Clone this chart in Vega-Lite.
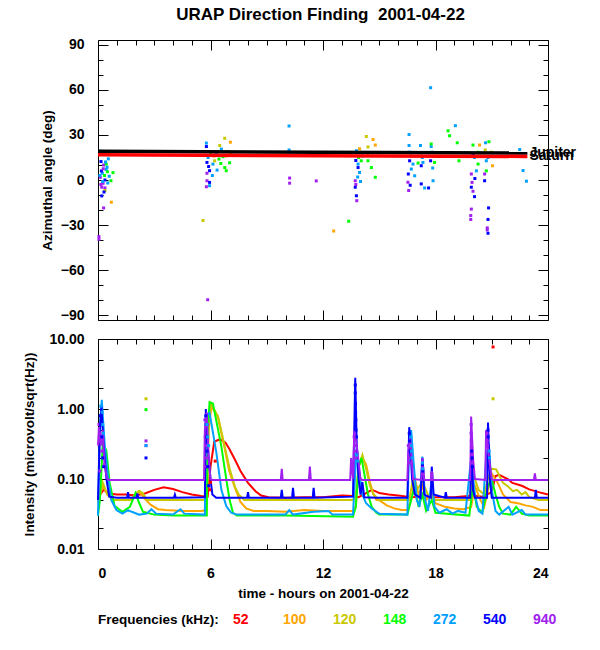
{
  "$schema": "https://vega.github.io/schema/vega-lite/v6.json",
  "title": {"text": "URAP Direction Finding\u00a0 2001-04-22", "fontSize": 17, "fontWeight": "bold", "font": "Liberation Sans", "color": "black", "anchor": "middle", "offset": 13, "dx": 21},
  "padding": {"left": 22, "top": 6, "right": 10, "bottom": 5},
  "background": "white",
  "config": {
    "font": "Liberation Sans",
    "view": {"stroke": "black", "strokeWidth": 1},
    "axis": {"domain": false, "grid": false, "ticks": true, "labelFont": "Liberation Sans", "labelFontSize": 14, "labelFontWeight": "bold", "labelColor": "black", "tickColor": "black", "tickWidth": 1, "titleFont": "Liberation Sans", "titleFontSize": 13.5, "titleFontWeight": "bold", "titleColor": "black", "labelOverlap": false}
  },
  "datasets": {
    "dirf": [
      {"t":0.12,"a":19.2,"f":272},{"t":0.59,"a":18.5,"f":148},{"t":0.62,"a":17,"f":148},{"t":0.55,"a":14.1,"f":272},{"t":0.16,"a":12.3,"f":540},{"t":0.3,"a":10,"f":940},{"t":0.44,"a":10.6,"f":148},{"t":0.44,"a":7,"f":272},{"t":0.8,"a":4.9,"f":148},{"t":0.23,"a":4.5,"f":272},{"t":0.12,"a":1.8,"f":940},{"t":0.37,"a":0,"f":540},{"t":0.52,"a":-2,"f":272},{"t":0.27,"a":-2.2,"f":940},{"t":0.2,"a":-4.8,"f":940},{"t":0.37,"a":-5.3,"f":940},{"t":0.69,"a":-0.5,"f":148},{"t":0.37,"a":-7,"f":120},{"t":0.2,"a":-10.6,"f":540},{"t":0.71,"a":-14.8,"f":100},{"t":0.3,"a":-18.6,"f":940},{"t":0.05,"a":-37.7,"f":940},{"t":0.05,"a":-39.5,"f":940},{"t":0.48,"a":8.5,"f":272},{"t":0.18,"a":6,"f":540},{"t":0.1,"a":3,"f":272},{"t":0.25,"a":-1,"f":272},{"t":0.35,"a":3,"f":148},{"t":0.4,"a":12,"f":272},{"t":0.15,"a":-3,"f":940},{"t":0.28,"a":7.5,"f":940},{"t":0.6,"a":2.5,"f":272},{"t":0.32,"a":-8,"f":540},{"t":0.5,"a":5.5,"f":148},
      {"t":5.78,"a":24.6,"f":272},{"t":5.78,"a":22.3,"f":540},{"t":6.76,"a":27.8,"f":120},{"t":7.06,"a":25.2,"f":100},{"t":6.49,"a":23,"f":120},{"t":6.58,"a":20.6,"f":272},{"t":6.93,"a":19,"f":120},{"t":6.67,"a":15.5,"f":148},{"t":5.87,"a":15,"f":272},{"t":6.84,"a":16.1,"f":120},{"t":5.81,"a":11.7,"f":540},{"t":6.13,"a":10.6,"f":272},{"t":7.02,"a":11.5,"f":148},{"t":6.22,"a":12.8,"f":120},{"t":6.76,"a":8.3,"f":148},{"t":6.84,"a":6.2,"f":148},{"t":6.35,"a":6.6,"f":272},{"t":5.81,"a":4.5,"f":940},{"t":5.95,"a":6.2,"f":540},{"t":5.81,"a":-0.5,"f":940},{"t":5.95,"a":-1.6,"f":540},{"t":5.95,"a":-3.8,"f":272},{"t":5.78,"a":-4.5,"f":940},{"t":5.6,"a":-27,"f":120},{"t":5.85,"a":-79.8,"f":940},{"t":6.0,"a":18,"f":148},{"t":6.3,"a":17,"f":272},{"t":6.45,"a":14,"f":148},{"t":6.1,"a":3,"f":272},{"t":5.9,"a":9,"f":540},{"t":6.2,"a":16,"f":100},{"t":6.55,"a":11,"f":148},{"t":7.1,"a":18,"f":100},{"t":6.4,"a":19,"f":120},
      {"t":10.19,"a":36,"f":272},{"t":10.19,"a":20,"f":272},{"t":10.22,"a":1.3,"f":940},{"t":10.22,"a":-2.1,"f":940},{"t":11.64,"a":-0.6,"f":940},{"t":12.57,"a":-34,"f":100},{"t":13.37,"a":-27.5,"f":148},
      {"t":14.31,"a":29,"f":120},{"t":14.67,"a":27,"f":100},{"t":14.4,"a":22,"f":120},{"t":14.79,"a":23.3,"f":100},{"t":13.95,"a":20.8,"f":100},{"t":14.4,"a":17.8,"f":100},{"t":13.78,"a":19.5,"f":272},{"t":14.04,"a":12.8,"f":148},{"t":14.58,"a":8.3,"f":148},{"t":14.4,"a":12.8,"f":148},{"t":14.79,"a":1.8,"f":148},{"t":13.87,"a":10.6,"f":272},{"t":13.87,"a":8.3,"f":540},{"t":13.95,"a":5,"f":272},{"t":13.72,"a":-0.5,"f":940},{"t":14.0,"a":-1,"f":272},{"t":13.72,"a":-4.8,"f":540},{"t":13.8,"a":-13.8,"f":940},{"t":13.78,"a":-10.5,"f":540},{"t":13.9,"a":15,"f":148},{"t":13.75,"a":13,"f":540},{"t":14.1,"a":16,"f":272},{"t":13.85,"a":2,"f":272},{"t":13.75,"a":-3,"f":940},
      {"t":16.59,"a":30.3,"f":272},{"t":16.59,"a":23,"f":272},{"t":17.2,"a":23,"f":272},{"t":17.77,"a":22.3,"f":272},{"t":17.77,"a":24,"f":148},{"t":16.62,"a":18.5,"f":272},{"t":17.07,"a":11.3,"f":148},{"t":17.33,"a":11.7,"f":272},{"t":17.95,"a":11.7,"f":148},{"t":16.71,"a":7.3,"f":272},{"t":16.62,"a":12.8,"f":540},{"t":17.24,"a":9.5,"f":540},{"t":16.89,"a":2.8,"f":272},{"t":16.53,"a":-1.5,"f":940},{"t":16.57,"a":-7,"f":940},{"t":17.24,"a":-2.6,"f":540},{"t":17.87,"a":-0.5,"f":272},{"t":17.42,"a":-5.3,"f":272},{"t":17.63,"a":-5.3,"f":540},{"t":16.8,"a":10.6,"f":272},{"t":17.74,"a":12.8,"f":540},{"t":17.81,"a":18.5,"f":272},{"t":17.74,"a":61.5,"f":272},{"t":16.7,"a":16,"f":148},{"t":17.3,"a":15,"f":272},{"t":16.55,"a":4,"f":540},{"t":16.65,"a":-3.5,"f":540},{"t":17.85,"a":8,"f":272},
      {"t":18.67,"a":32.8,"f":148},{"t":18.75,"a":29.5,"f":148},{"t":19.06,"a":36.2,"f":272},{"t":19.16,"a":24.8,"f":148},{"t":19.25,"a":12.8,"f":148},
      {"t":20.0,"a":23.3,"f":148},{"t":20.35,"a":23.3,"f":100},{"t":20.67,"a":24.8,"f":272},{"t":20.85,"a":25.5,"f":148},{"t":20.27,"a":18.5,"f":148},{"t":20.08,"a":15,"f":272},{"t":20.27,"a":10.6,"f":148},{"t":20.18,"a":6.1,"f":272},{"t":19.91,"a":4,"f":940},{"t":19.95,"a":-1.6,"f":940},{"t":19.91,"a":-4.8,"f":540},{"t":20.0,"a":-7.5,"f":940},{"t":20.08,"a":-11.1,"f":540},{"t":19.91,"a":-19.4,"f":940},{"t":19.88,"a":-23.7,"f":940},{"t":19.88,"a":-26.3,"f":940},{"t":20.71,"a":12.8,"f":272},{"t":20.62,"a":-0.5,"f":540},{"t":20.83,"a":-18.6,"f":540},{"t":20.8,"a":-26.3,"f":540},{"t":20.76,"a":-31.9,"f":940},{"t":20.76,"a":-33.3,"f":940},{"t":20.8,"a":-35.5,"f":540},{"t":20.98,"a":18.5,"f":120},{"t":21.04,"a":9.5,"f":100},{"t":20.62,"a":4,"f":940},{"t":20.71,"a":6.1,"f":148},{"t":20.0,"a":17,"f":540},{"t":20.1,"a":1,"f":540},{"t":20.65,"a":20,"f":120},{"t":20.8,"a":15,"f":272},
      {"t":22.49,"a":20.3,"f":272},{"t":22.67,"a":6.3,"f":272},{"t":22.85,"a":-0.8,"f":272}
    ],
    "planets": [
      {"body":"Jupiter","t":0,"a":19.1},{"body":"Jupiter","t":22.9,"a":18.0},
      {"body":"Saturn","t":0,"a":16.8},{"body":"Saturn","t":22.9,"a":15.7}
    ],
    "intens": [
      {"f":52,"t":0,"v":0.055},{"f":52,"t":0.3,"v":0.07},{"f":52,"t":0.6,"v":0.062},{"f":52,"t":1.0,"v":0.06},{"f":52,"t":1.5,"v":0.06},{"f":52,"t":2.0,"v":0.058},{"f":52,"t":2.5,"v":0.062},{"f":52,"t":3.0,"v":0.07},{"f":52,"t":3.5,"v":0.076},{"f":52,"t":4.0,"v":0.072},{"f":52,"t":4.5,"v":0.065},{"f":52,"t":5.0,"v":0.06},{"f":52,"t":5.5,"v":0.057},{"f":52,"t":5.85,"v":0.056},{"f":52,"t":6.0,"v":0.15},{"f":52,"t":6.2,"v":0.34},{"f":52,"t":6.5,"v":0.37},{"f":52,"t":6.8,"v":0.33},{"f":52,"t":7.0,"v":0.27},{"f":52,"t":7.3,"v":0.19},{"f":52,"t":7.6,"v":0.13},{"f":52,"t":8.0,"v":0.088},{"f":52,"t":8.4,"v":0.067},{"f":52,"t":8.7,"v":0.058},{"f":52,"t":9.1,"v":0.055},{"f":52,"t":10,"v":0.054},{"f":52,"t":11,"v":0.055},{"f":52,"t":12,"v":0.055},{"f":52,"t":13,"v":0.058},{"f":52,"t":13.6,"v":0.057},{"f":52,"t":13.9,"v":0.055},{"f":52,"t":14.3,"v":0.063},{"f":52,"t":14.6,"v":0.07},{"f":52,"t":14.85,"v":0.066},{"f":52,"t":15.0,"v":0.063},{"f":52,"t":15.5,"v":0.06},{"f":52,"t":16.0,"v":0.058},{"f":52,"t":16.5,"v":0.056},{"f":52,"t":17,"v":0.055},{"f":52,"t":18,"v":0.055},{"f":52,"t":19,"v":0.055},{"f":52,"t":20,"v":0.058},{"f":52,"t":20.5,"v":0.056},{"f":52,"t":21.0,"v":0.065},{"f":52,"t":21.2,"v":0.11},{"f":52,"t":21.4,"v":0.115},{"f":52,"t":21.9,"v":0.098},{"f":52,"t":22.1,"v":0.088},{"f":52,"t":22.6,"v":0.08},{"f":52,"t":23.0,"v":0.071},{"f":52,"t":23.5,"v":0.065},{"f":52,"t":24,"v":0.06},
      {"f":100,"t":0,"v":0.045},{"f":100,"t":0.25,"v":0.08},{"f":100,"t":0.5,"v":0.06},{"f":100,"t":0.8,"v":0.05},{"f":100,"t":1.2,"v":0.05},{"f":100,"t":1.7,"v":0.05},{"f":100,"t":2.0,"v":0.06},{"f":100,"t":2.2,"v":0.066},{"f":100,"t":2.5,"v":0.052},{"f":100,"t":2.8,"v":0.043},{"f":100,"t":3.2,"v":0.037},{"f":100,"t":3.6,"v":0.036},{"f":100,"t":4.5,"v":0.035},{"f":100,"t":5.5,"v":0.035},{"f":100,"t":5.8,"v":0.036},{"f":100,"t":5.9,"v":0.5},{"f":100,"t":6.05,"v":1.1},{"f":100,"t":6.4,"v":0.75},{"f":100,"t":6.76,"v":0.27},{"f":100,"t":7.0,"v":0.13},{"f":100,"t":7.3,"v":0.075},{"f":100,"t":7.6,"v":0.047},{"f":100,"t":7.9,"v":0.038},{"f":100,"t":8.3,"v":0.035},{"f":100,"t":9,"v":0.035},{"f":100,"t":10,"v":0.034},{"f":100,"t":11,"v":0.036},{"f":100,"t":12,"v":0.035},{"f":100,"t":13,"v":0.035},{"f":100,"t":13.6,"v":0.035},{"f":100,"t":13.75,"v":0.04},{"f":100,"t":13.9,"v":0.15},{"f":100,"t":14.1,"v":0.2},{"f":100,"t":14.3,"v":0.16},{"f":100,"t":14.5,"v":0.09},{"f":100,"t":14.7,"v":0.06},{"f":100,"t":14.85,"v":0.05},{"f":100,"t":15.0,"v":0.05},{"f":100,"t":15.4,"v":0.042},{"f":100,"t":15.8,"v":0.038},{"f":100,"t":16.2,"v":0.036},{"f":100,"t":16.5,"v":0.036},{"f":100,"t":16.7,"v":0.05},{"f":100,"t":16.9,"v":0.1},{"f":100,"t":17.1,"v":0.06},{"f":100,"t":17.3,"v":0.08},{"f":100,"t":17.5,"v":0.05},{"f":100,"t":17.8,"v":0.06},{"f":100,"t":18.0,"v":0.045},{"f":100,"t":18.5,"v":0.04},{"f":100,"t":19.0,"v":0.038},{"f":100,"t":19.5,"v":0.037},{"f":100,"t":19.9,"v":0.04},{"f":100,"t":20.1,"v":0.08},{"f":100,"t":20.4,"v":0.05},{"f":100,"t":20.6,"v":0.04},{"f":100,"t":20.8,"v":0.07},{"f":100,"t":21.0,"v":0.12},{"f":100,"t":21.3,"v":0.09},{"f":100,"t":21.6,"v":0.06},{"f":100,"t":22.0,"v":0.047},{"f":100,"t":22.4,"v":0.045},{"f":100,"t":22.8,"v":0.042},{"f":100,"t":23.2,"v":0.04},{"f":100,"t":23.6,"v":0.036},{"f":100,"t":24,"v":0.036},
      {"f":120,"t":0,"v":0.05},{"f":120,"t":0.25,"v":0.09},{"f":120,"t":0.5,"v":0.06},{"f":120,"t":0.8,"v":0.05},{"f":120,"t":1.8,"v":0.05},{"f":120,"t":2.0,"v":0.062},{"f":120,"t":2.2,"v":0.068},{"f":120,"t":2.4,"v":0.062},{"f":120,"t":2.6,"v":0.05},{"f":120,"t":4,"v":0.05},{"f":120,"t":5.8,"v":0.05},{"f":120,"t":5.9,"v":0.6},{"f":120,"t":6.0,"v":1.2},{"f":120,"t":6.4,"v":0.79},{"f":120,"t":6.76,"v":0.29},{"f":120,"t":7.02,"v":0.14},{"f":120,"t":7.3,"v":0.078},{"f":120,"t":7.5,"v":0.06},{"f":120,"t":7.8,"v":0.05},{"f":120,"t":10,"v":0.05},{"f":120,"t":13.6,"v":0.05},{"f":120,"t":13.75,"v":0.06},{"f":120,"t":13.9,"v":0.15},{"f":120,"t":14.1,"v":0.22},{"f":120,"t":14.3,"v":0.14},{"f":120,"t":14.5,"v":0.08},{"f":120,"t":14.7,"v":0.06},{"f":120,"t":14.85,"v":0.055},{"f":120,"t":15.0,"v":0.05},{"f":120,"t":16.6,"v":0.05},{"f":120,"t":16.8,"v":0.1},{"f":120,"t":17.0,"v":0.07},{"f":120,"t":17.3,"v":0.09},{"f":120,"t":17.6,"v":0.06},{"f":120,"t":18.0,"v":0.05},{"f":120,"t":19.8,"v":0.05},{"f":120,"t":20.0,"v":0.12},{"f":120,"t":20.3,"v":0.07},{"f":120,"t":20.6,"v":0.06},{"f":120,"t":20.8,"v":0.1},{"f":120,"t":21.0,"v":0.14},{"f":120,"t":21.24,"v":0.137},{"f":120,"t":21.6,"v":0.088},{"f":120,"t":21.87,"v":0.078},{"f":120,"t":22.13,"v":0.067},{"f":120,"t":22.35,"v":0.07},{"f":120,"t":22.6,"v":0.06},{"f":120,"t":22.8,"v":0.065},{"f":120,"t":23.0,"v":0.055},{"f":120,"t":23.5,"v":0.05},{"f":120,"t":24,"v":0.05},
      {"f":148,"t":0,"v":0.03},{"f":148,"t":0.1,"v":0.05},{"f":148,"t":0.25,"v":0.3},{"f":148,"t":0.44,"v":0.26},{"f":148,"t":0.62,"v":0.088},{"f":148,"t":0.89,"v":0.041},{"f":148,"t":1.3,"v":0.034},{"f":148,"t":1.7,"v":0.04},{"f":148,"t":2.0,"v":0.063},{"f":148,"t":2.2,"v":0.045},{"f":148,"t":2.4,"v":0.034},{"f":148,"t":3,"v":0.031},{"f":148,"t":4,"v":0.03},{"f":148,"t":5,"v":0.03},{"f":148,"t":5.8,"v":0.03},{"f":148,"t":5.85,"v":0.5},{"f":148,"t":5.95,"v":1.25},{"f":148,"t":6.13,"v":1.2},{"f":148,"t":6.58,"v":0.29},{"f":148,"t":6.84,"v":0.1},{"f":148,"t":7.02,"v":0.05},{"f":148,"t":7.2,"v":0.033},{"f":148,"t":7.4,"v":0.03},{"f":148,"t":10,"v":0.03},{"f":148,"t":13.6,"v":0.029},{"f":148,"t":13.75,"v":0.04},{"f":148,"t":13.9,"v":0.15},{"f":148,"t":14.05,"v":0.2},{"f":148,"t":14.2,"v":0.12},{"f":148,"t":14.4,"v":0.06},{"f":148,"t":14.6,"v":0.04},{"f":148,"t":14.85,"v":0.033},{"f":148,"t":15,"v":0.031},{"f":148,"t":16.5,"v":0.031},{"f":148,"t":16.7,"v":0.05},{"f":148,"t":16.9,"v":0.08},{"f":148,"t":17.1,"v":0.04},{"f":148,"t":17.3,"v":0.06},{"f":148,"t":17.5,"v":0.035},{"f":148,"t":17.8,"v":0.05},{"f":148,"t":18.0,"v":0.033},{"f":148,"t":19.8,"v":0.03},{"f":148,"t":20.0,"v":0.08},{"f":148,"t":20.2,"v":0.04},{"f":148,"t":20.5,"v":0.033},{"f":148,"t":20.8,"v":0.08},{"f":148,"t":21.0,"v":0.1},{"f":148,"t":21.2,"v":0.06},{"f":148,"t":21.4,"v":0.04},{"f":148,"t":21.6,"v":0.032},{"f":148,"t":22.0,"v":0.031},{"f":148,"t":22.3,"v":0.04},{"f":148,"t":22.6,"v":0.032},{"f":148,"t":23,"v":0.03},{"f":148,"t":24,"v":0.03},
      {"f":272,"t":0,"v":0.03},{"f":272,"t":0.1,"v":0.5},{"f":272,"t":0.2,"v":1.35},{"f":272,"t":0.36,"v":0.3},{"f":272,"t":0.53,"v":0.11},{"f":272,"t":0.71,"v":0.05},{"f":272,"t":0.98,"v":0.036},{"f":272,"t":1.3,"v":0.032},{"f":272,"t":1.6,"v":0.036},{"f":272,"t":1.8,"v":0.034},{"f":272,"t":2.2,"v":0.031},{"f":272,"t":2.6,"v":0.032},{"f":272,"t":2.85,"v":0.037},{"f":272,"t":3.1,"v":0.032},{"f":272,"t":4.0,"v":0.031},{"f":272,"t":4.4,"v":0.037},{"f":272,"t":4.6,"v":0.032},{"f":272,"t":5.7,"v":0.031},{"f":272,"t":5.75,"v":0.8},{"f":272,"t":5.95,"v":0.88},{"f":272,"t":6.31,"v":0.24},{"f":272,"t":6.58,"v":0.07},{"f":272,"t":6.84,"v":0.041},{"f":272,"t":7.1,"v":0.033},{"f":272,"t":7.4,"v":0.031},{"f":272,"t":10,"v":0.031},{"f":272,"t":10.2,"v":0.036},{"f":272,"t":10.4,"v":0.031},{"f":272,"t":11.5,"v":0.034},{"f":272,"t":12.3,"v":0.035},{"f":272,"t":12.5,"v":0.031},{"f":272,"t":13.6,"v":0.031},{"f":272,"t":13.7,"v":0.1},{"f":272,"t":13.8,"v":0.3},{"f":272,"t":13.9,"v":0.15},{"f":272,"t":14.1,"v":0.06},{"f":272,"t":14.3,"v":0.045},{"f":272,"t":14.6,"v":0.038},{"f":272,"t":14.85,"v":0.034},{"f":272,"t":15,"v":0.032},{"f":272,"t":16.5,"v":0.031},{"f":272,"t":16.6,"v":0.35},{"f":272,"t":16.7,"v":0.5},{"f":272,"t":16.85,"v":0.15},{"f":272,"t":17.0,"v":0.05},{"f":272,"t":17.15,"v":0.04},{"f":272,"t":17.3,"v":0.21},{"f":272,"t":17.45,"v":0.05},{"f":272,"t":17.6,"v":0.035},{"f":272,"t":17.8,"v":0.1},{"f":272,"t":17.95,"v":0.04},{"f":272,"t":18.2,"v":0.033},{"f":272,"t":18.6,"v":0.037},{"f":272,"t":18.9,"v":0.032},{"f":272,"t":19.2,"v":0.035},{"f":272,"t":19.6,"v":0.033},{"f":272,"t":19.9,"v":0.2},{"f":272,"t":20.1,"v":0.06},{"f":272,"t":20.3,"v":0.035},{"f":272,"t":20.5,"v":0.032},{"f":272,"t":20.7,"v":0.2},{"f":272,"t":20.85,"v":0.3},{"f":272,"t":21.0,"v":0.07},{"f":272,"t":21.2,"v":0.035},{"f":272,"t":21.4,"v":0.031},{"f":272,"t":21.9,"v":0.04},{"f":272,"t":22.1,"v":0.031},{"f":272,"t":22.6,"v":0.036},{"f":272,"t":22.8,"v":0.031},{"f":272,"t":24,"v":0.031},
      {"f":540,"t":0,"v":0.05},{"f":540,"t":0.1,"v":0.5},{"f":540,"t":0.18,"v":1.1},{"f":540,"t":0.3,"v":0.3},{"f":540,"t":0.45,"v":0.1},{"f":540,"t":0.6,"v":0.056},{"f":540,"t":1.0,"v":0.054},{"f":540,"t":1.55,"v":0.054},{"f":540,"t":1.6,"v":0.065},{"f":540,"t":1.65,"v":0.054},{"f":540,"t":2.05,"v":0.054},{"f":540,"t":2.1,"v":0.062},{"f":540,"t":2.15,"v":0.054},{"f":540,"t":4.05,"v":0.054},{"f":540,"t":4.1,"v":0.06},{"f":540,"t":4.15,"v":0.054},{"f":540,"t":5.7,"v":0.055},{"f":540,"t":5.75,"v":1.0},{"f":540,"t":5.85,"v":0.3},{"f":540,"t":6.0,"v":0.1},{"f":540,"t":6.1,"v":0.06},{"f":540,"t":6.3,"v":0.054},{"f":540,"t":7.95,"v":0.054},{"f":540,"t":8.0,"v":0.065},{"f":540,"t":8.05,"v":0.054},{"f":540,"t":9.75,"v":0.054},{"f":540,"t":9.8,"v":0.07},{"f":540,"t":9.85,"v":0.054},{"f":540,"t":10.35,"v":0.054},{"f":540,"t":10.4,"v":0.075},{"f":540,"t":10.45,"v":0.054},{"f":540,"t":11.45,"v":0.054},{"f":540,"t":11.5,"v":0.075},{"f":540,"t":11.55,"v":0.054},{"f":540,"t":13.6,"v":0.056},{"f":540,"t":13.72,"v":2.8},{"f":540,"t":13.8,"v":0.3},{"f":540,"t":13.9,"v":0.1},{"f":540,"t":14.0,"v":0.06},{"f":540,"t":14.1,"v":0.09},{"f":540,"t":14.2,"v":0.055},{"f":540,"t":14.85,"v":0.054},{"f":540,"t":15,"v":0.054},{"f":540,"t":16.5,"v":0.054},{"f":540,"t":16.6,"v":0.55},{"f":540,"t":16.75,"v":0.1},{"f":540,"t":16.9,"v":0.06},{"f":540,"t":17.2,"v":0.054},{"f":540,"t":17.3,"v":0.2},{"f":540,"t":17.4,"v":0.06},{"f":540,"t":17.75,"v":0.054},{"f":540,"t":17.8,"v":0.15},{"f":540,"t":17.9,"v":0.06},{"f":540,"t":18.5,"v":0.054},{"f":540,"t":18.55,"v":0.065},{"f":540,"t":18.6,"v":0.054},{"f":540,"t":19.85,"v":0.054},{"f":540,"t":19.92,"v":0.3},{"f":540,"t":20.0,"v":0.07},{"f":540,"t":20.1,"v":0.054},{"f":540,"t":20.75,"v":0.054},{"f":540,"t":20.8,"v":0.64},{"f":540,"t":20.9,"v":0.1},{"f":540,"t":21.0,"v":0.054},{"f":540,"t":23.3,"v":0.054},{"f":540,"t":23.35,"v":0.07},{"f":540,"t":23.4,"v":0.054},{"f":540,"t":24,"v":0.054},
      {"f":940,"t":0,"v":0.3},{"f":940,"t":0.05,"v":0.55},{"f":940,"t":0.15,"v":0.3},{"f":940,"t":0.25,"v":0.5},{"f":940,"t":0.35,"v":0.15},{"f":940,"t":0.5,"v":0.1},{"f":940,"t":0.6,"v":0.097},{"f":940,"t":5.65,"v":0.097},{"f":940,"t":5.7,"v":0.5},{"f":940,"t":5.8,"v":0.9},{"f":940,"t":5.9,"v":0.2},{"f":940,"t":6.0,"v":0.1},{"f":940,"t":6.1,"v":0.097},{"f":940,"t":9.75,"v":0.097},{"f":940,"t":9.8,"v":0.14},{"f":940,"t":9.85,"v":0.097},{"f":940,"t":11.25,"v":0.097},{"f":940,"t":11.3,"v":0.15},{"f":940,"t":11.35,"v":0.097},{"f":940,"t":13.45,"v":0.097},{"f":940,"t":13.5,"v":0.2},{"f":940,"t":13.6,"v":0.1},{"f":940,"t":13.67,"v":0.5},{"f":940,"t":13.8,"v":0.3},{"f":940,"t":14.0,"v":0.1},{"f":940,"t":14.1,"v":0.097},{"f":940,"t":16.5,"v":0.097},{"f":940,"t":16.55,"v":0.25},{"f":940,"t":16.65,"v":0.4},{"f":940,"t":16.8,"v":0.1},{"f":940,"t":17.25,"v":0.097},{"f":940,"t":17.3,"v":0.2},{"f":940,"t":17.4,"v":0.097},{"f":940,"t":17.75,"v":0.097},{"f":940,"t":17.8,"v":0.13},{"f":940,"t":17.85,"v":0.097},{"f":940,"t":19.85,"v":0.097},{"f":940,"t":19.9,"v":0.78},{"f":940,"t":20.0,"v":0.2},{"f":940,"t":20.1,"v":0.1},{"f":940,"t":20.65,"v":0.097},{"f":940,"t":20.7,"v":0.5},{"f":940,"t":20.85,"v":0.2},{"f":940,"t":21.0,"v":0.1},{"f":940,"t":21.1,"v":0.097},{"f":940,"t":23.25,"v":0.097},{"f":940,"t":23.3,"v":0.12},{"f":940,"t":23.35,"v":0.097},{"f":940,"t":24,"v":0.097}
    ],
    "bursts": [
      {"f":940,"t":0.05,"v":0.6},{"f":940,"t":0.08,"v":0.45},{"f":940,"t":0.12,"v":0.35},{"f":940,"t":0.2,"v":0.25},{"f":940,"t":0.25,"v":0.4},{"f":940,"t":0.3,"v":0.2},{"f":940,"t":0.35,"v":0.16},{"f":940,"t":0.1,"v":0.13},
      {"f":540,"t":0.12,"v":0.8},{"f":540,"t":0.15,"v":0.6},{"f":540,"t":0.2,"v":0.4},{"f":540,"t":0.25,"v":0.2},{"f":540,"t":0.3,"v":0.15},
      {"f":272,"t":0.15,"v":1.1},{"f":272,"t":0.22,"v":0.9},{"f":272,"t":0.25,"v":0.6},{"f":272,"t":0.28,"v":0.45},
      {"f":120,"t":2.56,"v":1.4},{"f":148,"t":2.56,"v":0.98},{"f":940,"t":2.56,"v":0.35},{"f":940,"t":2.56,"v":0.3},{"f":272,"t":2.56,"v":0.3},{"f":540,"t":2.56,"v":0.2},
      {"f":940,"t":5.7,"v":0.7},{"f":940,"t":5.72,"v":0.4},{"f":940,"t":5.75,"v":0.3},{"f":940,"t":5.78,"v":0.2},{"f":940,"t":5.8,"v":0.15},{"f":940,"t":5.85,"v":0.6},
      {"f":540,"t":5.75,"v":0.8},{"f":540,"t":5.78,"v":0.6},{"f":540,"t":5.8,"v":0.4},{"f":540,"t":5.82,"v":0.25},{"f":540,"t":5.85,"v":0.15},{"f":540,"t":5.9,"v":0.08},
      {"f":272,"t":5.8,"v":0.6},{"f":272,"t":5.85,"v":0.4},{"f":272,"t":5.9,"v":0.3},
      {"f":52,"t":6.0,"v":0.09},{"f":52,"t":5.95,"v":0.07},{"f":52,"t":6.25,"v":0.18},
      {"f":540,"t":13.72,"v":2.2},{"f":540,"t":13.72,"v":1.7},{"f":540,"t":13.73,"v":1.2},{"f":540,"t":13.74,"v":0.9},{"f":540,"t":13.75,"v":0.7},{"f":540,"t":13.76,"v":0.5},{"f":540,"t":13.78,"v":0.4},
      {"f":940,"t":13.66,"v":0.4},{"f":940,"t":13.68,"v":0.3},{"f":940,"t":13.7,"v":0.25},{"f":940,"t":13.74,"v":0.2},
      {"f":272,"t":13.8,"v":0.22},{"f":272,"t":13.84,"v":0.18},
      {"f":540,"t":16.6,"v":0.45},{"f":540,"t":16.62,"v":0.35},{"f":540,"t":16.65,"v":0.25},{"f":540,"t":17.3,"v":0.16},{"f":540,"t":17.32,"v":0.13},
      {"f":272,"t":16.68,"v":0.4},{"f":272,"t":16.7,"v":0.3},{"f":272,"t":16.72,"v":0.25},{"f":272,"t":16.75,"v":0.2},{"f":272,"t":17.3,"v":0.17},{"f":272,"t":17.32,"v":0.14},
      {"f":940,"t":16.55,"v":0.3},{"f":940,"t":16.57,"v":0.2},{"f":940,"t":16.6,"v":0.17},{"f":940,"t":17.8,"v":0.12},
      {"f":940,"t":19.9,"v":0.6},{"f":940,"t":19.9,"v":0.45},{"f":940,"t":19.91,"v":0.35},{"f":940,"t":19.93,"v":0.28},{"f":940,"t":19.95,"v":0.22},{"f":940,"t":19.97,"v":0.17},
      {"f":540,"t":19.93,"v":0.25},{"f":540,"t":19.95,"v":0.2},{"f":540,"t":19.97,"v":0.15},
      {"f":540,"t":20.8,"v":0.5},{"f":540,"t":20.81,"v":0.4},{"f":540,"t":20.82,"v":0.3},{"f":540,"t":20.85,"v":0.2},
      {"f":940,"t":20.75,"v":0.45},{"f":940,"t":20.76,"v":0.35},{"f":940,"t":20.78,"v":0.3},
      {"f":272,"t":20.86,"v":0.25},{"f":272,"t":20.88,"v":0.2},
      {"f":52,"t":21.07,"v":7.7},{"f":120,"t":21.07,"v":1.4}
    ]
  },
  "spacing": 8,
  "vconcat": [
    {
      "width": 450,
      "height": 280,
      "layer": [
        {
          "data": {"name": "dirf"},
          "mark": {"type": "square", "size": 9, "opacity": 1},
          "encoding": {
            "x": {"field": "t", "type": "quantitative", "scale": {"domain": [0, 24], "nice": false},
              "axis": {"orient": "bottom", "values": [0,1,2,3,4,5,6,7,8,9,10,11,12,13,14,15,16,17,18,19,20,21,22,23,24], "labels": false, "title": null,
                "tickSize": {"expr": "datum.value % 6 === 0 ? -10 : -5"}}},
            "y": {"field": "a", "type": "quantitative", "scale": {"domain": [-93.3, 93.3], "nice": false, "zero": false},
              "axis": {"orient": "left", "values": [-90,-80,-70,-60,-50,-40,-30,-20,-10,0,10,20,30,40,50,60,70,80,90], "labelExpr": "datum.value % 30 === 0 ? datum.label : ''", "title": "Azimuthal angle (deg)", "titlePadding": 6, "labelPadding": 24,
                "tickSize": {"expr": "datum.value % 30 === 0 ? -10 : -5"}}},
            "color": {"field": "f", "type": "nominal",
              "scale": {"domain": [52, 100, 120, 148, 272, 540, 940], "range": ["#ff0000", "#ffa500", "#c8c800", "#00ff00", "#00a0ff", "#0000ff", "#a020f0"]},
              "legend": {"orient": "bottom", "offset": 13, "direction": "horizontal", "title": "Frequencies (kHz):", "titleOrient": "left", "titleFontSize": 13.5, "titleFontWeight": "bold", "titleColor": "black", "titlePadding": 0, "symbolOpacity": 0, "symbolSize": 0, "labelFontSize": 14, "labelFontWeight": "bold", "labelOffset": 0, "columnPadding": 12, "gridAlign": "all",
                "labelColor": {"expr": "datum.value == 52 ? '#ff0000' : datum.value == 100 ? '#ffa500' : datum.value == 120 ? '#c8c800' : datum.value == 148 ? '#00ff00' : datum.value == 272 ? '#00a0ff' : datum.value == 540 ? '#0000ff' : '#a020f0'"}}}
          }
        },
        {
          "data": {"name": "planets"},
          "mark": {"type": "line", "strokeWidth": 3.5},
          "encoding": {
            "x": {"field": "t", "type": "quantitative", "scale": {"domain": [0, 24], "nice": false},
              "axis": {"orient": "top", "values": [0,1,2,3,4,5,6,7,8,9,10,11,12,13,14,15,16,17,18,19,20,21,22,23,24], "labels": false, "title": null,
                "tickSize": {"expr": "datum.value % 6 === 0 ? -10 : -5"}}},
            "y": {"field": "a", "type": "quantitative", "scale": {"domain": [-93.3, 93.3], "nice": false, "zero": false},
              "axis": {"orient": "right", "values": [-90,-80,-70,-60,-50,-40,-30,-20,-10,0,10,20,30,40,50,60,70,80,90], "labels": false, "title": null,
                "tickSize": {"expr": "datum.value % 30 === 0 ? -10 : -5"}}},
            "stroke": {"field": "body", "type": "nominal", "scale": {"domain": ["Jupiter", "Saturn"], "range": ["black", "#ff0000"]}, "legend": null}
          }
        },
        {
          "data": {"name": "planets"},
          "transform": [{"filter": "datum.t > 20"}],
          "mark": {"type": "text", "align": "left", "dx": 2, "fontSize": 14, "fontWeight": "bold", "color": "black", "font": "Liberation Sans"},
          "encoding": {
            "x": {"field": "t", "type": "quantitative", "axis": null},
            "y": {"field": "a", "type": "quantitative", "axis": null},
            "text": {"field": "body"}
          }
        }
      ],
      "resolve": {"axis": {"x": "independent", "y": "independent"}}
    },
    {
      "width": 450,
      "height": 210,
      "layer": [
        {
          "data": {"name": "intens"},
          "mark": {"type": "line", "strokeWidth": 2},
          "encoding": {
            "x": {"field": "t", "type": "quantitative", "scale": {"domain": [0, 24], "nice": false},
              "axis": {"orient": "bottom", "values": [0,1,2,3,4,5,6,7,8,9,10,11,12,13,14,15,16,17,18,19,20,21,22,23,24], "labelExpr": "datum.value % 6 === 0 ? datum.label : ''", "labelPadding": 27, "title": "time - hours on 2001-04-22", "titlePadding": 1,
                "tickSize": {"expr": "datum.value % 6 === 0 ? -10 : -5"}}},
            "y": {"field": "v", "type": "quantitative", "scale": {"type": "log", "domain": [0.01, 10], "nice": false},
              "axis": {"orient": "left", "values": [0.01,0.02,0.05,0.1,0.2,0.5,1,2,5,10], "labelExpr": "indexof([0.01,0.1,1,10], datum.value) >= 0 ? format(datum.value, '.2f') : ''", "title": "Intensity (microvolt/sqrt(Hz))", "titlePadding": 12, "labelPadding": 24,
                "tickSize": {"expr": "indexof([0.01,0.1,1,10], datum.value) >= 0 ? -10 : -5"}}},
            "color": {"field": "f", "type": "nominal",
              "scale": {"domain": [52, 100, 120, 148, 272, 540, 940], "range": ["#ff0000", "#ffa500", "#c8c800", "#00ff00", "#00a0ff", "#0000ff", "#a020f0"]}}
          }
        },
        {
          "data": {"name": "bursts"},
          "mark": {"type": "square", "size": 9, "opacity": 1},
          "encoding": {
            "x": {"field": "t", "type": "quantitative", "scale": {"domain": [0, 24], "nice": false},
              "axis": {"orient": "top", "values": [0,1,2,3,4,5,6,7,8,9,10,11,12,13,14,15,16,17,18,19,20,21,22,23,24], "labels": false, "title": null,
                "tickSize": {"expr": "datum.value % 6 === 0 ? -10 : -5"}}},
            "y": {"field": "v", "type": "quantitative", "scale": {"type": "log", "domain": [0.01, 10], "nice": false},
              "axis": {"orient": "right", "values": [0.01,0.02,0.05,0.1,0.2,0.5,1,2,5,10], "labels": false, "title": null,
                "tickSize": {"expr": "indexof([0.01,0.1,1,10], datum.value) >= 0 ? -10 : -5"}}},
            "color": {"field": "f", "type": "nominal"}
          }
        }
      ],
      "resolve": {"axis": {"x": "independent", "y": "independent"}}
    }
  ]
}
